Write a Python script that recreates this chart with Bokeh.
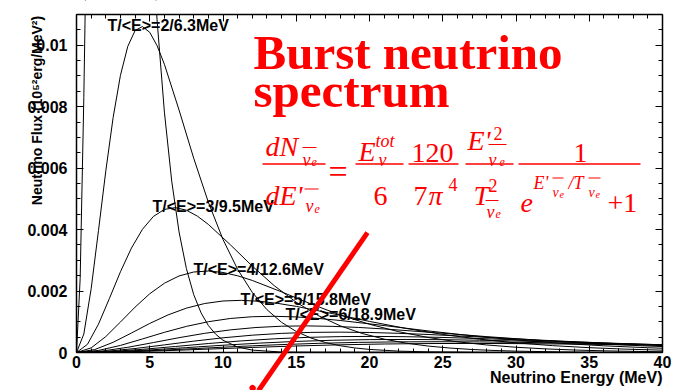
from math import pi
from bokeh.plotting import figure
from bokeh.models import Range1d, LinearAxis, FixedTicker, NumeralTickFormatter, Label, Arrow, BoxAnnotation
from bokeh.embed import file_html
from bokeh.resources import INLINE

# ---------------- data ----------------
temperatures = [1, 2, 3, 4, 5, 6, 7, 8, 9, 10, 11, 12]

energy_T1 = [0, 0.25, 0.5, 0.75, 1, 1.25, 1.5, 1.75, 2, 2.25, 2.5, 2.75, 3, 3.5, 4, 4.5, 5, 5.5, 6, 6.5, 7, 7.5, 8, 8.5, 9, 9.5, 10, 11, 12, 14, 40]
flux_T1 = [0, 0.002405, 0.008297, 0.015862, 0.023640, 0.030587, 0.036079, 0.039854, 0.041912, 0.042430, 0.041674, 0.039943, 0.037518, 0.031562, 0.025296, 0.019557, 0.014707, 0.010822, 0.007824, 0.005575, 0.003924, 0.002733, 0.001886, 0.001292, 0.000879, 0.000594, 0.000399, 0.000178, 0.0000778, 0.0000143, 0]

energy_T2 = [0, 0.5, 1, 1.5, 2, 2.5, 3, 3.5, 4, 4.5, 5, 5.5, 6, 7, 8, 9, 10, 11, 12, 13, 14, 15, 16, 17, 18, 19, 20, 22, 24, 28, 40]
flux_T2 = [0, 0.000601, 0.002074, 0.003966, 0.005910, 0.007647, 0.009020, 0.009963, 0.010478, 0.010608, 0.010419, 0.009986, 0.009380, 0.007891, 0.006324, 0.004889, 0.003677, 0.002706, 0.001956, 0.001394, 0.000981, 0.000683, 0.000472, 0.000323, 0.000220, 0.000148, 0.0000998, 0.0000444, 0.0000194, 0.0000036, 0]

energy_T3 = [0, 0.75, 1.5, 2.25, 3, 3.75, 4.5, 5.25, 6, 6.75, 7.5, 8.25, 9, 10.5, 12, 13.5, 15, 16.5, 18, 19.5, 21, 22.5, 24, 25.5, 27, 28.5, 30, 33, 36, 40]
flux_T3 = [0, 0.000267, 0.000922, 0.001762, 0.002627, 0.003399, 0.004009, 0.004428, 0.004657, 0.004714, 0.004631, 0.004438, 0.004169, 0.003507, 0.002811, 0.002173, 0.001634, 0.001202, 0.000869, 0.000620, 0.000436, 0.000304, 0.000210, 0.000144, 0.0000976, 0.0000660, 0.0000443, 0.0000197, 0.0000086, 0.0000028]

energy_T4 = [0, 1, 2, 3, 4, 5, 6, 7, 8, 9, 10, 11, 12, 14, 16, 18, 20, 22, 24, 26, 28, 30, 32, 34, 36, 38, 40]
flux_T4 = [0, 0.0001503, 0.0005186, 0.0009914, 0.0014775, 0.0019117, 0.0022550, 0.0024909, 0.0026195, 0.0026519, 0.0026047, 0.0024964, 0.0023449, 0.0019727, 0.0015810, 0.0012223, 0.0009192, 0.0006764, 0.0004890, 0.0003485, 0.0002452, 0.0001708, 0.0001179, 0.0000807, 0.0000549, 0.0000371, 0.0000249]

energy_T5 = [0, 1.25, 2.5, 3.75, 5, 6.25, 7.5, 8.75, 10, 11.25, 12.5, 13.75, 15, 17.5, 20, 22.5, 25, 27.5, 30, 32.5, 35, 37.5, 40]
flux_T5 = [0, 0.0000962, 0.0003319, 0.0006345, 0.0009456, 0.0012235, 0.0014432, 0.0015942, 0.0016765, 0.0016972, 0.0016670, 0.0015977, 0.0015007, 0.0012625, 0.0010118, 0.0007823, 0.0005883, 0.0004329, 0.0003130, 0.0002230, 0.0001570, 0.0001093, 0.0000755]

energy_T6 = [0, 1.5, 3, 4.5, 6, 7.5, 9, 10.5, 12, 13.5, 15, 16.5, 18, 21, 24, 27, 30, 33, 36, 39, 40]
flux_T6 = [0, 0.0000668, 0.0002305, 0.0004406, 0.0006567, 0.0008496, 0.0010022, 0.0011071, 0.0011642, 0.0011786, 0.0011576, 0.0011095, 0.0010422, 0.0008767, 0.0007027, 0.0005433, 0.0004085, 0.0003006, 0.0002173, 0.0001549, 0.0001379]

energy_T7 = [0, 1.75, 3.5, 5.25, 7, 8.75, 10.5, 12.25, 14, 15.75, 17.5, 19.25, 21, 24.5, 28, 31.5, 35, 38.5, 40]
flux_T7 = [0, 0.0000491, 0.0001693, 0.0003237, 0.0004825, 0.0006242, 0.0007363, 0.0008134, 0.0008554, 0.0008659, 0.0008505, 0.0008152, 0.0007657, 0.0006441, 0.0005163, 0.0003991, 0.0003002, 0.0002209, 0.0001925]

energy_T8 = [0, 2, 4, 6, 8, 10, 12, 14, 16, 18, 20, 22, 24, 28, 32, 36, 40]
flux_T8 = [0, 0.0000376, 0.0001296, 0.0002478, 0.0003694, 0.0004779, 0.0005637, 0.0006227, 0.0006549, 0.0006630, 0.0006511, 0.0006241, 0.0005862, 0.0004931, 0.0003952, 0.0003056, 0.0002298]

energy_T9 = [0, 2.25, 4.5, 6.75, 9, 11.25, 13.5, 15.75, 18, 20.25, 22.5, 24.75, 27, 31.5, 36, 40]
flux_T9 = [0, 0.0000297, 0.0001024, 0.0001958, 0.0002919, 0.0003776, 0.0004454, 0.0004920, 0.0005174, 0.0005238, 0.0005145, 0.0004931, 0.0004632, 0.0003897, 0.0003123, 0.0002489]

energy_T10 = [0, 2.5, 5, 7.5, 10, 12.5, 15, 17.5, 20, 22.5, 25, 27.5, 30, 35, 40]
flux_T10 = [0, 0.0000240, 0.0000830, 0.0001586, 0.0002364, 0.0003059, 0.0003608, 0.0003985, 0.0004191, 0.0004243, 0.0004167, 0.0003994, 0.0003752, 0.0003156, 0.0002530]

energy_T11 = [0, 2.75, 5.5, 8.25, 11, 13.75, 16.5, 19.25, 22, 24.75, 27.5, 30.25, 33, 38.5, 40]
flux_T11 = [0, 0.0000199, 0.0000686, 0.0001311, 0.0001954, 0.0002528, 0.0002982, 0.0003294, 0.0003464, 0.0003507, 0.0003444, 0.0003301, 0.0003101, 0.0002608, 0.0002466]

energy_T12 = [0, 3, 6, 9, 12, 15, 18, 21, 24, 27, 30, 33, 36, 40]
flux_T12 = [0, 0.0000167, 0.0000576, 0.0001102, 0.0001642, 0.0002124, 0.0002506, 0.0002768, 0.0002911, 0.0002947, 0.0002894, 0.0002774, 0.0002605, 0.0002336]

curve_labels = ["T/<E>=2/6.3MeV", "T/<E>=3/9.5MeV", "T/<E>=4/12.6MeV",
                "T/<E>=5/15.8MeV", "T/<E>=6/18.9MeV"]

x_ticks = [0, 5, 10, 15, 20, 25, 30, 35, 40]
x_minor_ticks = [0, 1, 2, 3, 4, 5, 6, 7, 8, 9, 10, 11, 12, 13, 14, 15, 16, 17, 18, 19, 20,
                 21, 22, 23, 24, 25, 26, 27, 28, 29, 30, 31, 32, 33, 34, 35, 36, 37, 38, 39, 40]
y_ticks = [0, 0.002, 0.004, 0.006, 0.008, 0.01]
y_minor_ticks = [0, 0.0005, 0.001, 0.0015, 0.002, 0.0025, 0.003, 0.0035, 0.004, 0.0045, 0.005,
                 0.0055, 0.006, 0.0065, 0.007, 0.0075, 0.008, 0.0085, 0.009, 0.0095, 0.01, 0.0105]
x_limits = [0, 40]
y_limits = [0, 0.011]

# red hand-drawn slash (start / end, energy & flux coords) and the dot at its end
slash_energy = [19.86, 12.42]
slash_flux = [0.0039, -0.00124]
dot_energy = [12.01, 12.03]
dot_flux = [-0.00115, -0.00116]

curves = [(energy_T1, flux_T1), (energy_T2, flux_T2), (energy_T3, flux_T3), (energy_T4, flux_T4),
          (energy_T5, flux_T5), (energy_T6, flux_T6), (energy_T7, flux_T7), (energy_T8, flux_T8),
          (energy_T9, flux_T9), (energy_T10, flux_T10), (energy_T11, flux_T11), (energy_T12, flux_T12)]

# ---------------- layout ----------------
# The frame covers the whole canvas; the plot box (axes) sits at px 76..662 x 14..352.
W, H = 675, 390
BL, BR, BT, BB = 76, 13, 14, 38
XMAX, YMAX = x_limits[1], y_limits[1]
FW, FH = W - BL - BR, H - BT - BB

def FX(px):
    return (px - BL) * XMAX / FW

def FY(py):
    return (H - BB - py) * YMAX / FH

SANS = "Liberation Sans"
SERIF = "Liberation Serif"
RED = "#ff0000"

p = figure(width=W, height=H, x_range=Range1d(FX(0), FX(W)), y_range=Range1d(FY(H), FY(0)),
           output_backend="svg", toolbar_location=None,
           min_border_left=0, min_border_right=0, min_border_top=0, min_border_bottom=0)
p.xgrid.visible = False
p.ygrid.visible = False
p.background_fill_color = "white"
p.border_fill_color = "white"
p.outline_line_color = None

xt = FixedTicker(ticks=x_ticks, minor_ticks=x_minor_ticks)
yt = FixedTicker(ticks=y_ticks, minor_ticks=y_minor_ticks)

def style_axis(ax, show_labels):
    ax.axis_line_color = "black"
    ax.axis_line_width = 1.5
    ax.major_tick_in = 7
    ax.major_tick_out = 0
    ax.minor_tick_in = 4
    ax.minor_tick_out = 0
    ax.major_tick_line_width = 1
    ax.minor_tick_line_width = 1
    if show_labels:
        ax.major_label_text_font = SANS
        ax.major_label_text_font_style = "bold"
        ax.major_label_text_font_size = "16px"
        ax.major_label_text_color = "black"
    else:
        ax.major_label_text_color = None
        ax.major_label_text_font_size = "1px"
        ax.major_label_standoff = 0

xa = p.xaxis[0]
xa.ticker = xt
xa.fixed_location = y_limits[0]
xa.bounds = (x_limits[0], x_limits[1])
style_axis(xa, True)
xa.major_label_standoff = 3

ya = p.yaxis[0]
ya.ticker = yt
ya.formatter = NumeralTickFormatter(format="0.[000]")
ya.fixed_location = x_limits[0]
ya.bounds = (y_limits[0], y_limits[1])
style_axis(ya, True)
ya.major_label_standoff = 9

top = LinearAxis(ticker=xt, fixed_location=y_limits[1], bounds=(x_limits[0], x_limits[1]))
style_axis(top, False)
p.add_layout(top, "above")
right = LinearAxis(ticker=yt, fixed_location=x_limits[1], bounds=(y_limits[0], y_limits[1]))
style_axis(right, False)
p.add_layout(right, "right")

# curves
for e, f in curves:
    p.line(e, f, line_color="black", line_width=1)

# hide the parts of the curves that run above the plot box
p.add_layout(BoxAnnotation(bottom=YMAX, fill_color="white", fill_alpha=1.0, line_color=None, level="glyph"))

# curve annotations
label_pos = [(107, 24.5), (152, 206), (193, 268.5), (240, 298.5), (285, 313.5)]
for txt, (px, py) in zip(curve_labels, label_pos):
    p.add_layout(Label(x=FX(px), y=FY(py), text=txt, text_font=SANS, text_font_style="bold",
                       text_font_size="16px", text_color="black",
                       text_align="left", text_baseline="alphabetic"))

# axis titles
p.add_layout(Label(x=XMAX, y=FY(377), text="Neutrino Energy (MeV)", text_font=SANS,
                   text_font_style="bold", text_font_size="16px", text_color="black",
                   text_align="right", text_baseline="alphabetic"))
p.add_layout(Label(x=FX(36), y=FY(110), text="Neutrino Flux (10\u2075\u00b2erg/MeV\u00b2)", angle=pi / 2,
                   text_font=SANS, text_font_style="bold", text_font_size="14px", text_color="black",
                   text_align="center", text_baseline="middle"))

# title
for txt, px, py in [("Burst neutrino", 253, 52), ("spectrum", 253, 90)]:
    p.add_layout(Label(x=FX(px), y=FY(py), text=txt, text_font=SERIF, text_font_style="bold",
                       text_font_size="49px", text_color=RED,
                       text_align="left", text_baseline="alphabetic"))

# formula pieces: text, x px, baseline px, size, style
formula = [
    ("dN", 265, 146, 28, "italic"),
    ("\u03bd", 302, 159, 18, "italic"),
    ("e", 311, 161, 12, "italic"),
    ("dE'", 265, 195, 28, "italic"),
    ("\u03bd", 305, 205, 18, "italic"),
    ("e", 314, 208, 12, "italic"),
    ("=", 328, 171, 34, "normal"),
    ("E", 358, 151, 28, "italic"),
    ("tot", 375, 140, 18, "italic"),
    ("\u03bd", 378, 159, 18, "italic"),
    ("6", 373, 195, 28, "normal"),
    ("120", 411, 152, 28, "normal"),
    ("7", 413, 195, 28, "normal"),
    ("\u03c0", 428, 195, 28, "italic"),
    ("4", 448, 184, 18, "normal"),
    ("E'", 467, 140, 28, "italic"),
    ("2", 493, 133, 18, "normal"),
    ("\u03bd", 488, 159, 18, "italic"),
    ("e", 499, 161, 12, "italic"),
    ("T", 473, 195, 28, "italic"),
    ("2", 488, 185, 18, "normal"),
    ("\u03bd", 486, 211, 18, "italic"),
    ("e", 495, 213, 12, "italic"),
    ("1", 573, 152, 28, "normal"),
    ("e", 520, 202, 28, "italic"),
    ("E'", 533, 182, 18, "italic"),
    ("\u03bd", 552, 192, 14, "italic"),
    ("e", 559, 194, 10, "italic"),
    ("/T", 568, 182, 18, "italic"),
    ("\u03bd", 588, 192, 14, "italic"),
    ("e", 595, 194, 10, "italic"),
    ("+1", 607, 202, 28, "normal"),
]
for txt, px, py, size, style in formula:
    p.add_layout(Label(x=FX(px), y=FY(py), text=txt, text_font=SERIF, text_font_style=style,
                       text_font_size=f"{size}px", text_color=RED,
                       text_align="left", text_baseline="alphabetic"))

# fraction rules and over-bars of the formula (x0, x1, y in px)
rules = [(262, 325, 163.5), (355, 403, 163.5), (408, 458, 163.5), (465, 513, 163.5), (518, 640, 163.5)]
bars = [(302, 316, 147), (304, 318, 188.5), (488, 506, 144), (485, 498, 200), (552, 563, 177.5), (588, 600, 177.5)]
p.segment(x0=[FX(a) for a, b, c in rules], x1=[FX(b) for a, b, c in rules],
          y0=[FY(c) for a, b, c in rules], y1=[FY(c) for a, b, c in rules],
          line_color=RED, line_width=1.5)
p.segment(x0=[FX(a) for a, b, c in bars], x1=[FX(b) for a, b, c in bars],
          y0=[FY(c) for a, b, c in bars], y1=[FY(c) for a, b, c in bars],
          line_color=RED, line_width=1)

# red slash and dot (drawn over everything)
p.add_layout(Arrow(end=None, x_start=slash_energy[0], y_start=slash_flux[0],
                   x_end=slash_energy[1], y_end=slash_flux[1], line_color=RED, line_width=5))
p.add_layout(Arrow(end=None, x_start=dot_energy[0], y_start=dot_flux[0],
                   x_end=dot_energy[1], y_end=dot_flux[1], line_color=RED, line_width=6,
                   line_cap="round"))

open("out.html", "w").write(file_html(p, INLINE))
